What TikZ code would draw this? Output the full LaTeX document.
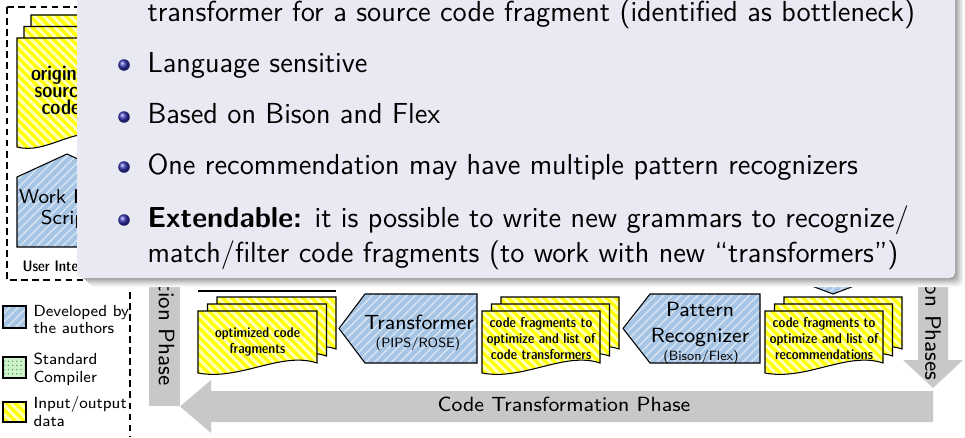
\documentclass[tikz,border=0pt]{standalone}
\usepackage{tikz}
\usetikzlibrary{patterns.meta}

\definecolor{popbg}{RGB}{233,233,243}
\definecolor{structure}{RGB}{51,51,179}
\definecolor{bluefill}{RGB}{166,196,228}
\definecolor{bluestripe}{RGB}{214,228,243}
\definecolor{yellowfill}{RGB}{255,255,0}
\definecolor{yellowstripe}{RGB}{255,255,185}
\definecolor{greenfill}{RGB}{205,242,205}
\definecolor{greendot}{RGB}{70,175,70}
\definecolor{phasegray}{RGB}{200,200,200}

\newcommand{\dfont}[2]{\sffamily\fontsize{#1}{#2}\selectfont}
\newcommand{\dbold}[2]{\sffamily\fontseries{sbc}\fontsize{#1}{#2}\selectfont}
\newcommand{\popfont}{\sffamily\fontsize{11}{13.6}\selectfont}

\tikzset{
  authorshape/.style={draw=black, preaction={fill=bluefill},
    pattern={Lines[angle=45,distance=2.3pt,line width=0.55pt]}, pattern color=bluestripe},
  compilershape/.style={draw=black, preaction={fill=greenfill},
    pattern={Dots[distance=1.6pt,radius=0.3pt]}, pattern color=greendot},
  iodata/.style={draw=black, preaction={fill=yellowfill},
    pattern={Lines[angle=-45,distance=2.4pt,line width=1.1pt]}, pattern color=yellowstripe},
  phasearrow/.style={fill=phasegray},
  framebox/.style={draw=black, dash pattern=on 2.6pt off 1.6pt},
  biglabel/.style={font=\dfont{7.8}{9}, inner sep=0pt, anchor=base},
  phaselabel/.style={font=\dfont{8.5}{9}, inner sep=0pt, rotate=-90, anchor=east},
  toollabel/.style={font=\dfont{5.1}{6}, inner sep=0pt, anchor=base},
  doctext/.style={font=\dbold{5.4}{6.1}, align=center, inner sep=0pt},
  legendtext/.style={font=\dfont{6.1}{6.7}, align=left, anchor=north west, inner sep=0pt},
  poptext/.style={font=\popfont, anchor=base west, inner sep=0pt}
}

\newcommand{\docpage}[4]{%
  \draw[iodata] ({#1},{#2}) -- ({#1+#3},{#2}) -- ({#1+#3},{#2+#4-10})
    .. controls ({#1+0.7*#3},{#2+#4-22}) and ({#1+0.35*#3},{#2+#4+8}) .. ({#1},{#2+#4}) -- cycle;}
\newcommand{\docstack}[6]{%
  \docpage{#1+2*#5}{#2-2*#6}{#3}{#4}
  \docpage{#1+#5}{#2-#6}{#3}{#4}
  \docpage{#1}{#2}{#3}{#4}}

\begin{document}
\begin{tikzpicture}[x=0.38pt, y=-0.38pt]
    \useasboundingbox (0,0) rectangle (965,437);

    \fill[phasearrow] (149,200) rectangle (180,406);
    \node[phaselabel] (compphase) at (164.5,386) {Compilation Phase};
    \fill[phasearrow] (918,200) -- (948,200) -- (948,360) -- (963,360) -- (933,388) -- (903,360) -- (918,360) -- cycle;
    \node[phaselabel] (recphase) at (933,381) {Recommendation Phases};
    \fill[phasearrow] (933,391) -- (211,391) -- (211,380) -- (180,406.5) -- (211,433) -- (211,422) -- (933,422) -- cycle;
    \node[biglabel] (ctphase) at (564,411) {Code Transformation Phase};

    \draw[framebox] (7,7) rectangle (130,280);
    \docstack{17}{38}{84}{109}{7}{11.5}
    \node[doctext, font=\dbold{8}{6.5}] (origcode) at (61,90) {original\\source\\code};
    \draw[authorshape] (17,177) -- (67,154) -- (117,177) -- (117,247) -- (17,247) -- cycle;
    \node[font=\dfont{7.6}{7.6}, align=center, inner sep=0pt] (workflow) at (67,209) {Work Flow\\Script};
    \node[font=\dbold{5.8}{6}, anchor=base west, inner sep=0pt] (userlabel) at (22,271) {User Interaction};

    \draw[framebox] (130,292) -- (130,437);
    \draw[authorshape] (3,306) rectangle (26,328);
    \node[legendtext] (legauthors) at (33,304.5) {Developed by\\the authors};
    \draw[compilershape] (3,357) rectangle (26,378);
    \node[legendtext] (legcompiler) at (33,352.5) {Standard\\Compiler};
    \draw[iodata] (3,402) rectangle (26,422);
    \node[legendtext] (legdata) at (33,396) {Input/output\\data};

    \draw (198,291) -- (336,291);
    \draw[authorshape] (780,200) -- (886,200) -- (886,274) -- (833,294) -- (780,274) -- cycle;

    \docstack{198}{311}{119}{62}{9.5}{7}
    \node[doctext] (optfrag) at (257.5,342) {optimized code\\fragments};
    \draw[authorshape] (365,294) -- (477,294) -- (477,363) -- (365,363) -- (339,328.5) -- cycle;
    \node[biglabel] (transformer) at (419,329) {Transformer};
    \node[toollabel] (transtool) at (418,347) {(PIPS/ROSE)};
    \docstack{482}{311}{118}{62}{9.5}{7}
    \node[doctext] (fragtrans) at (541,339) {code fragments to\\optimize and list of\\code transformers};
    \draw[authorshape] (650,294) -- (760,294) -- (760,363) -- (650,363) -- (623,328.5) -- cycle;
    \node[biglabel] (pattern) at (700,316) {Pattern};
    \node[biglabel] (recognizer) at (700,342) {Recognizer};
    \node[toollabel] (rectool) at (701,360) {(Bison/Flex)};
    \docstack{765}{311}{118}{62}{9.5}{7}
    \node[doctext] (fragrec) at (824,339) {code fragments to\\optimize and list of\\recommendations};

    \foreach \k/\g in {9/2,8/5,7/9,6/13,5/17,4/22,3/27,2/32,1/37}
        \fill[black!\g, rounded corners=2pt] ({80+\k},-30) rectangle ({955+\k},{278+\k});
    \fill[popbg, rounded corners=2pt] (77,-30) rectangle (955,278);

    \node[poptext] (popline0) at (147,22) {transformer for a source code fragment (identified as bottleneck)};
    \shade[ball color=structure] (124,65) circle (2.2pt);
    \node[poptext] (popline1) at (147,73) {Language sensitive};
    \shade[ball color=structure] (124,117) circle (2.2pt);
    \node[poptext] (popline2) at (147,124) {Based on Bison and Flex};
    \shade[ball color=structure] (124,167) circle (2.2pt);
    \node[poptext] (popline3) at (147,175) {One recommendation may have multiple pattern recognizers};
    \shade[ball color=structure] (124,220) circle (2.2pt);
    \node[poptext] (popline4) at (147,227) {\textbf{Extendable:} it is possible to write new grammars to recognize/};
    \node[poptext] (popline5) at (147,262) {match/filter code fragments (to work with new ``transformers'')};
\end{tikzpicture}
\end{document}
